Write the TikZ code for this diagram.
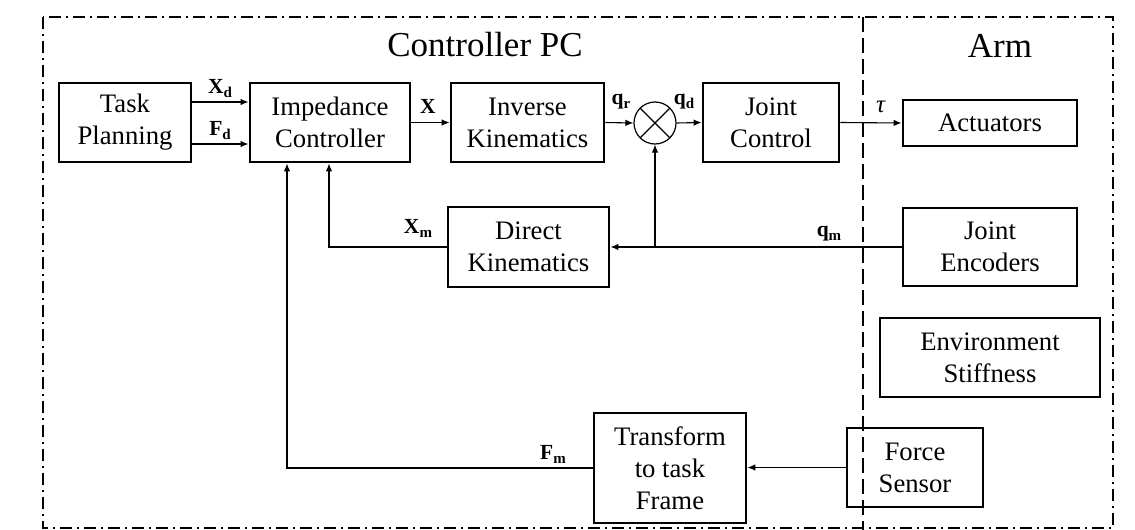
\documentclass[tikz,border=0pt]{standalone}
\usepackage{fontspec}
\setmainfont{Liberation Serif}
\usetikzlibrary{arrows.meta}
% bold signal name with a bold lowered subscript
\newcommand{\sig}[2]{\textbf{#1}\raisebox{-0.4ex}{\fontsize{15}{15}\selectfont\textbf{#2}}}

\begin{document}
\begin{tikzpicture}[x=1pt,y=-1pt,
  blk/.style={draw, line width=2.9pt, inner sep=0pt, align=center,
    font=\fontsize{26.7}{32}\selectfont},
  conn/.style={line width=1.1pt, -{Latex[length=8pt,width=6.5pt]}},
  lbl/.style={font=\fontsize{21.5}{21.5}\selectfont, inner sep=0pt},
  title/.style={font=\fontsize{35}{38}\selectfont, inner sep=0pt},
  frame/.style={line width=1.8pt, dash pattern=on 12pt off 5pt on 2pt off 5pt},
  divider/.style={line width=2.2pt, dash pattern=on 15pt off 6pt}]

\useasboundingbox (0,0) rectangle (1135,530);

% regions
\draw[frame] (43,17) rectangle (1113,528);
\draw[divider] (863,17) -- (863,530);
\node[title] (pc) at (485,45) {Controller PC};
\node[title] (arm) at (1000,46) {Arm};

% blocks of the controller PC
\node[blk, minimum width=132, minimum height=79] (tp) at (125,122.5) {Task\\Planning};
\node[blk, minimum width=160, minimum height=79] (ic) at (330,122.5) {Impedance\\Controller};
\node[blk, minimum width=153, minimum height=79] (ik) at (527.5,122.5) {Inverse\\Kinematics};
\node[draw, circle, line width=1.2pt, minimum size=42, inner sep=0pt,
  path picture={
    \draw[line width=1.2pt] (path picture bounding box.center) +(45:21) -- +(225:21);
    \draw[line width=1.2pt] (path picture bounding box.center) +(135:21) -- +(315:21);
  }] (sum) at (655,123) {};
\node[blk, minimum width=136, minimum height=79] (jc) at (771,122.5) {Joint\\Control};
\node[blk, minimum width=161, minimum height=80] (dk) at (528.5,247) {Direct\\Kinematics};
\node[blk, minimum width=152, minimum height=110] (tf) at (670,468) {Transform\\to task\\Frame};

% blocks of the arm
\node[blk, minimum width=174, minimum height=46] (act) at (990,123) {Actuators};
\node[blk, minimum width=174, minimum height=78] (je) at (990,247) {Joint\\Encoders};
\node[blk, minimum width=220, minimum height=79] (env) at (990,357.5) {Environment\\Stiffness};
\node[blk, minimum width=136, minimum height=79] (fs) at (915,467.5) {Force\\Sensor};

% forward path
\draw[conn] ([yshift=20.5pt]tp.east) -- ([yshift=20.5pt]ic.west);
\draw[conn] ([yshift=-21.5pt]tp.east) -- ([yshift=-21.5pt]ic.west);
\draw[conn] (ic.east) -- (ik.west);
\draw[conn] (ik.east) -- (sum.west);
\draw[conn] (sum.east) -- (jc.west);
\draw[conn] (jc.east) -- (act.west);

% feedback paths
\draw[conn] (je.west) -- (dk.east);
\coordinate (br) at (sum.south |- je.west);
\draw[conn] (br) -- (sum.south);
\draw[conn] (dk.west) -| ([xshift=-1pt]ic.south);
\draw[conn] (fs.west) -- (tf.east |- fs.west);
\draw[conn] (tf.west) -| ([xshift=-43pt]ic.south);

% signal labels
\node[lbl] (lxd) at (220,89) {\sig{X}{d}};
\node[lbl] (lfd) at (220,131) {\sig{F}{d}};
\node[lbl] (lx) at (428,106) {\textbf{X}};
\node[lbl] (lqr) at (621,102) {\sig{q}{r}};
\node[lbl] (lqd) at (684,102) {\sig{q}{d}};
\node[lbl, font=\fontsize{25}{25}\selectfont] (ltau) at (881,107) {\textit{τ}};
\node[lbl] (lxm) at (418,228) {\sig{X}{m}};
\node[lbl] (lqm) at (829,234) {\sig{q}{m}};
\node[lbl] (lfm) at (553,454) {\sig{F}{m}};
\end{tikzpicture}
\end{document}
